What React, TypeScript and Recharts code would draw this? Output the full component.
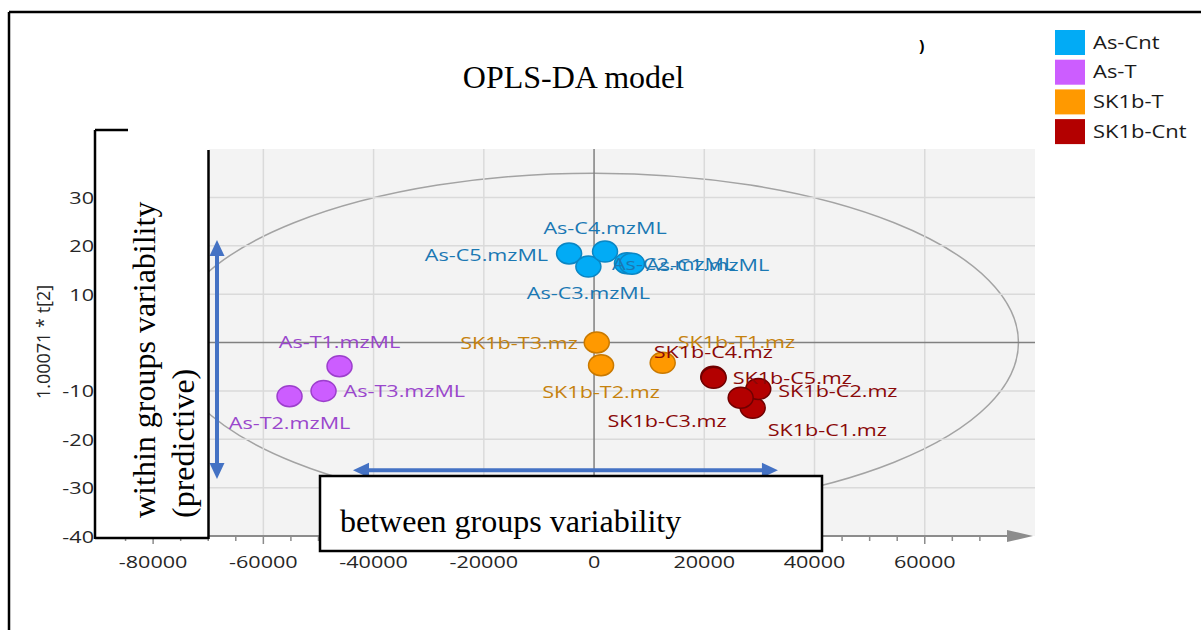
import React from 'react';
import { ScatterChart, Scatter, XAxis, YAxis, ReferenceArea, ReferenceLine, CartesianGrid } from 'recharts';

// ---------- data (scores) ----------
const asCnt = [
  { name: 'As-C5.mzML', x: -4530, y: 18.4 },
  { name: 'As-C3.mzML', x: -1030, y: 15.7 },
  { name: 'As-C4.mzML', x: 1990, y: 18.8 },
  { name: 'As-C2.mzML', x: 5970, y: 16.4 },
  { name: 'As-C1.mzML', x: 6880, y: 16.3 },
];
const asT = [
  { name: 'As-T1.mzML', x: -46180, y: -4.9 },
  { name: 'As-T3.mzML', x: -49080, y: -10.0 },
  { name: 'As-T2.mzML', x: -55250, y: -11.1 },
];
const sk1bT = [
  { name: 'SK1b-T3.mz', x: 490, y: 0.0 },
  { name: 'SK1b-T2.mz', x: 1270, y: -4.7 },
  { name: 'SK1b-T1.mz', x: 12450, y: -4.2 },
];
const sk1bCnt = [
  { name: 'SK1b-C1.mz', x: 28780, y: -13.5 },
  { name: 'SK1b-C2.mz', x: 29790, y: -9.6 },
  { name: 'SK1b-C4.mz', x: 21630, y: -7.1 },
  { name: 'SK1b-C5.mz', x: 21700, y: -7.3 },
  { name: 'SK1b-C3.mz', x: 26600, y: -11.4 },
];

const legendNames = ['As-Cnt', 'As-T', 'SK1b-T', 'SK1b-Cnt'];
const xMajorTicks = [-80000, -60000, -40000, -20000, 0, 20000, 40000, 60000];
const xTickMarks = [
  -85000, -80000, -75000, -70000, -65000, -60000, -55000, -50000, -45000, -40000,
  -35000, -30000, -25000, -20000, -15000, -10000, -5000, 0, 5000, 10000, 15000,
  20000, 25000, 30000, 35000, 40000, 45000, 50000, 55000, 60000, 65000, 70000,
];
const yTicks = [-40, -30, -20, -10, 10, 20, 30];
const gridX = [-80000, -60000, -40000, -20000, 20000, 40000, 60000];
const gridY = [-30, -20, -10, 10, 20, 30];
const xDomain = [-90000, 80000];
const yDomain = [-40, 40];
// Hotelling T2 ellipse semi-axes
const ellipseX = [-77000, 77000];
const ellipseY = [-35, 35];
// annotation arrows (data coordinates)
const withinArrow = [{ x: -68410, y: 21.2 }, { x: -68410, y: -28.2 }];
const betweenArrow = [{ x: -43740, y: -26.4 }, { x: 33360, y: -26.4 }];

// ---------- styles ----------
const colors = ['#02ABF5', '#CC5DFF', '#FF9900', '#B30000'];
const strokes = ['#0a86c4', '#9c3fcc', '#c97900', '#700000'];
const labelColors = ['#1a78b3', '#9a47cc', '#c6820e', '#8a0808'];
const SX = 1.27;
const SANS = "'Open Sans', sans-serif";
const SERIF = "'Liberation Serif', 'Times New Roman', serif";

const labelPlacement: Record<string, { dx: number; dy: number; anchor: 'start' | 'middle' | 'end' }> = {
  'As-C5.mzML': { dx: -21, dy: 1, anchor: 'end' },
  'As-C4.mzML': { dx: 0, dy: -24, anchor: 'middle' },
  'As-C3.mzML': { dx: 0, dy: 26, anchor: 'middle' },
  'As-C2.mzML': { dx: -15, dy: 0, anchor: 'start' },
  'As-C1.mzML': { dx: 14, dy: 1, anchor: 'start' },
  'As-T1.mzML': { dx: 0, dy: -25, anchor: 'middle' },
  'As-T3.mzML': { dx: 20, dy: 0, anchor: 'start' },
  'As-T2.mzML': { dx: 0, dy: 26, anchor: 'middle' },
  'SK1b-T3.mz': { dx: -19, dy: 0, anchor: 'end' },
  'SK1b-T2.mz': { dx: 0, dy: 26, anchor: 'middle' },
  'SK1b-T1.mz': { dx: 15, dy: -21, anchor: 'start' },
  'SK1b-C4.mz': { dx: 0, dy: -25, anchor: 'middle' },
  'SK1b-C5.mz': { dx: 19, dy: 0, anchor: 'start' },
  'SK1b-C2.mz': { dx: 20, dy: 1, anchor: 'start' },
  'SK1b-C3.mz': { dx: -14, dy: 23, anchor: 'end' },
  'SK1b-C1.mz': { dx: 15, dy: 22, anchor: 'start' },
};

const makePoint = (i: number) => (props: any) => (
  <ellipse cx={props.cx} cy={props.cy} rx={12.5} ry={10.5} fill={colors[i]} stroke={strokes[i]} strokeWidth={1.5} />
);

const makeLabel = (i: number) => (props: any) => {
  const { cx, cy, payload } = props;
  const p = labelPlacement[payload.name] || { dx: 15, dy: 0, anchor: 'start' };
  return (
    <g transform={`translate(${cx + p.dx},${cy + p.dy}) scale(${SX},1)`}>
      <text x={0} y={0} textAnchor={p.anchor} dominantBaseline="central" fontSize={17} fontFamily={SANS} fill={labelColors[i]}>
        {payload.name}
      </text>
    </g>
  );
};

const EllipseShape = (props: any) => {
  const { x, y, width, height } = props;
  return (
    <ellipse cx={x + width / 2} cy={y + height / 2} rx={Math.abs(width) / 2} ry={Math.abs(height) / 2}
      fill="none" stroke="#a3a3a3" strokeWidth={1.5} />
  );
};

const DoubleArrow = (props: any) => {
  const { x1, y1, x2, y2 } = props;
  const len = Math.hypot(x2 - x1, y2 - y1) || 1;
  const ux = (x2 - x1) / len;
  const uy = (y2 - y1) / len;
  const h = 16;
  const w = 7.5;
  const px = -uy;
  const py = ux;
  const head = (tx: number, ty: number, dir: number) => {
    const bx = tx - dir * ux * h;
    const by = ty - dir * uy * h;
    return `${tx},${ty} ${bx + px * w},${by + py * w} ${bx - px * w},${by - py * w}`;
  };
  return (
    <g>
      <line x1={x1 + ux * (h - 2)} y1={y1 + uy * (h - 2)} x2={x2 - ux * (h - 2)} y2={y2 - uy * (h - 2)} stroke="#4472C4" strokeWidth={4} />
      <polygon points={head(x2, y2, 1)} fill="#4472C4" />
      <polygon points={head(x1, y1, -1)} fill="#4472C4" />
    </g>
  );
};

const AxisArrow = (props: any) => {
  const { x1, y1, x2, y2 } = props;
  return (
    <g>
      <line x1={x1} y1={y1} x2={x2 - 24} y2={y2} stroke="#8c8c8c" strokeWidth={2} />
      <polygon points={`${x2 - 2},${y2} ${x2 - 28},${y2 - 6} ${x2 - 28},${y2 + 6}`} fill="#8c8c8c" />
    </g>
  );
};

const XTick = (props: any) => {
  const { x, y, payload } = props;
  const v = payload.value;
  const major = xMajorTicks.includes(v);
  return (
    <g>
      <line x1={x} y1={y} x2={x} y2={y + (major ? 8 : 5)} stroke="#8c8c8c" strokeWidth={1.5} />
      {major && (
        <g transform={`translate(${x},${y + 25}) scale(${SX},1)`}>
          <text x={0} y={0} textAnchor="middle" dominantBaseline="central" fontSize={17} fontFamily={SANS} fill="#262626">{v}</text>
        </g>
      )}
    </g>
  );
};

const YTick = (props: any) => {
  const { x, y, payload } = props;
  return (
    <g transform={`translate(${x},${y}) scale(${SX},1)`}>
      <text x={0} y={0} textAnchor="end" dominantBaseline="central" fontSize={17} fontFamily={SANS} fill="#262626">{payload.value}</text>
    </g>
  );
};

const series = [asCnt, asT, sk1bT, sk1bCnt];

export default function App() {
  return (
    <div style={{ position: 'absolute', left: 0, top: 0, width: 1201, height: 630, background: '#fff', overflow: 'hidden' }}>
      <div style={{ position: 'absolute', left: 0, top: 0 }}>
        <ScatterChart width={1201} height={630} margin={{ top: 149, right: 166, bottom: 0, left: 0 }}>
          <CartesianGrid horizontal={false} vertical={false} fill="#f3f3f3" />
          <XAxis type="number" dataKey="x" domain={xDomain} ticks={xTickMarks} interval={0} height={94}
            axisLine={false} tickLine={false} tickSize={0} tickMargin={0} tick={<XTick />} allowDataOverflow />
          <YAxis type="number" dataKey="y" domain={yDomain} ticks={yTicks} interval={0} width={98}
            axisLine={false} tickLine={false} tickSize={0} tickMargin={4} tick={<YTick />} allowDataOverflow />
          {gridX.map((v) => (
            <ReferenceLine key={'gx' + v} x={v} stroke="#dadada" strokeWidth={1.5} ifOverflow="visible" />
          ))}
          {gridY.map((v) => (
            <ReferenceLine key={'gy' + v} y={v} stroke="#dadada" strokeWidth={1.5} ifOverflow="visible" />
          ))}
          <ReferenceArea x1={ellipseX[0]} x2={ellipseX[1]} y1={ellipseY[0]} y2={ellipseY[1]} shape={EllipseShape} ifOverflow="visible" />
          <ReferenceLine x={0} stroke="#808080" strokeWidth={1.5} ifOverflow="visible" />
          <ReferenceLine y={0} stroke="#808080" strokeWidth={1.5} ifOverflow="visible" />
          <ReferenceLine segment={[{ x: xDomain[0], y: yDomain[0] }, { x: xDomain[1], y: yDomain[0] }]} shape={AxisArrow} ifOverflow="visible" />
          <ReferenceLine segment={withinArrow} shape={DoubleArrow} ifOverflow="visible" />
          <ReferenceLine segment={betweenArrow} shape={DoubleArrow} ifOverflow="visible" />
          {series.map((d, i) => (
            <Scatter key={'p' + i} name={legendNames[i]} data={d} shape={makePoint(i)} isAnimationActive={false} />
          ))}
          {series.map((d, i) => (
            <Scatter key={'l' + i} name={legendNames[i] + ' labels'} data={d} shape={makeLabel(i)} isAnimationActive={false} legendType="none" />
          ))}
        </ScatterChart>
      </div>
      <svg width={1201} height={630} style={{ position: 'absolute', left: 0, top: 0, pointerEvents: 'none' }}>
        {/* outer frame */}
        <line x1={9} y1={12} x2={1201} y2={12} stroke="#000" strokeWidth={2.5} />
        <line x1={9} y1={12} x2={9} y2={630} stroke="#000" strokeWidth={2.5} />
        <text x={919} y={52} fontSize={16} fontWeight="bold" fontFamily={SANS} fill="#000">)</text>
        {/* title */}
        <text x={573.5} y={88} textAnchor="middle" fontSize={32} fontFamily={SERIF} fill="#000">OPLS-DA model</text>
        {/* y axis title */}
        <text transform="translate(43,342) rotate(-90)" textAnchor="middle" dominantBaseline="central" fontSize={18} fontFamily={SANS} fill="#262626">1.00071 * t[2]</text>
        {/* within-groups box */}
        <rect x={95} y={130} width={114} height={408} fill="#fff" />
        <line x1={95} y1={130} x2={128} y2={130} stroke="#000" strokeWidth={2.5} />
        <line x1={95} y1={130} x2={95} y2={539} stroke="#000" strokeWidth={2.5} />
        <line x1={95} y1={538} x2={209} y2={538} stroke="#000" strokeWidth={2.5} />
        <line x1={208.5} y1={150} x2={208.5} y2={539} stroke="#000" strokeWidth={2.5} />
        <text transform="translate(155,518) rotate(-90)" fontSize={32} fontFamily={SERIF} fill="#000">within groups variability</text>
        <text transform="translate(194,518) rotate(-90)" fontSize={32} fontFamily={SERIF} fill="#000">(predictive)</text>
        {/* between-groups box */}
        <rect x={320} y={476} width={502} height={75} fill="#fff" stroke="#000" strokeWidth={2.5} />
        <text x={340} y={532} fontSize={32} fontFamily={SERIF} fill="#000">between groups variability</text>
        {/* legend */}
        {legendNames.map((n, i) => {
          const top = 30 + i * 29.7;
          return (
            <g key={n}>
              <rect x={1055} y={top} width={30} height={25} fill={colors[i]} />
              <g transform={`translate(1093,${top + 18.5}) scale(1.22,1)`}>
                <text x={0} y={0} fontSize={18} fontFamily={SANS} fill="#1a1a1a">{n}</text>
              </g>
            </g>
          );
        })}
      </svg>
    </div>
  );
}
